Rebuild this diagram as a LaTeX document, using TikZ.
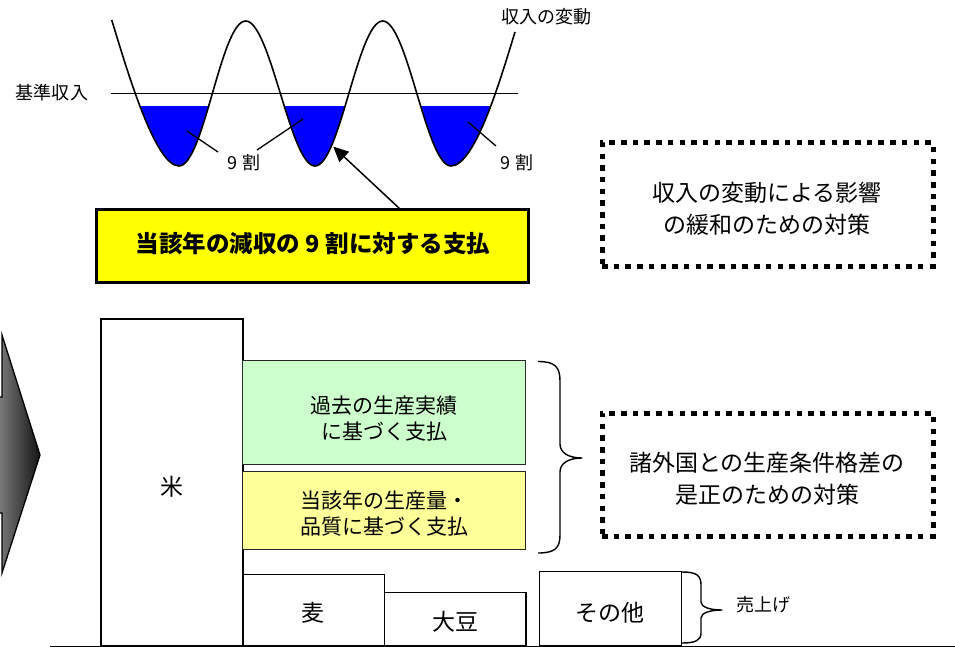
\documentclass[tikz,border=0pt]{standalone}
\usepackage{fontspec}
\setmainfont{Noto Sans CJK JP}
\newfontfamily\heavyjp{Noto Sans CJK JP Black}
\usetikzlibrary{arrows.meta,calc}
\begin{document}
\begin{tikzpicture}[x=1pt,y=-1pt,
  lbl/.style={inner sep=0pt, font=\fontsize{18}{22}\selectfont},
  midtxt/.style={inner sep=0pt, align=center, font=\fontsize{21}{26}\selectfont},
  bigtxt/.style={inner sep=0pt, align=center, font=\fontsize{23}{32}\selectfont},
  box/.style={draw=black, line width=1.5pt, inner sep=0pt},
  greenbox/.style={box, draw=black!85, fill={rgb,255:red,204;green,255;blue,204}},
  paleyellowbox/.style={box, draw=black!85, fill={rgb,255:red,255;green,255;blue,153}},
  paybox/.style={draw=black, line width=3pt, fill={rgb,255:red,255;green,255;blue,0}, inner sep=0pt},
  dotbox/.style={draw=black, line width=5pt, dash pattern=on 5.5pt off 6.2pt, inner sep=0pt},
  wave/.style={line width=1.6pt, line join=round},
  leader/.style={line width=1.3pt},
  bracestyle/.style={line width=1.4pt, line join=round},
]
\useasboundingbox (0,0) rectangle (955,647);

% ---------- income wave ----------
\def\wavepath{(111.7,20) .. controls (125,63) and (154.3,166) .. (179,166)
 .. controls (203.7,166) and (221,21) .. (245.7,21)
 .. controls (270.4,21) and (290.3,166) .. (315,166)
 .. controls (339.7,166) and (358,21) .. (382.7,21)
 .. controls (407.4,21) and (426.3,166) .. (451,166)
 .. controls (475.7,166) and (502,74) .. (515,32)}
\begin{scope}
  \clip (100,106.5) rectangle (530,200);
  \fill[blue] \wavepath -- cycle;
\end{scope}
\draw[line width=1.3pt] (111,93.3) -- (518,93.3);
\draw[wave] \wavepath;

\node[lbl] (base) at (52,93) {基準収入};
\node[lbl] (vary) at (546,17) {収入の変動};

\node[lbl] (n1) at (244,163) {9 割};
\node[lbl] (n2) at (517,163) {9 割};
\coordinate (e1) at (218,152);
\coordinate (b1) at (187,131);
\coordinate (e2) at (257,150);
\coordinate (b2) at (303,119);
\coordinate (e3) at (496,146);
\coordinate (b3) at (468,122);
\draw[leader] (e1) -- (b1);
\draw[leader] (e2) -- (b2);
\draw[leader] (e3) -- (b3);

% ---------- payment box ----------
\node[paybox, minimum width=432pt, minimum height=73pt] (pay) at (312,245.7) {};
\node[inner sep=0pt, font=\fontsize{23.5}{28}\heavyjp] (paytxt) at (313,243.5) {当該年の減収の 9 割に対する支払};
\coordinate (tailA) at (400,209);
\coordinate (tipA) at (333.3,146.7);
\draw[line width=1.5pt, -{Triangle[length=15pt,width=14pt]}] (tailA) -- (tipA);

% ---------- dotted boxes ----------
\node[dotbox, minimum width=331pt, minimum height=123pt] (d1) at (767.5,204.5) {};
\node[bigtxt] (d1t) at (767,209) {収入の変動による影響\\の緩和のための対策};
\node[dotbox, minimum width=331pt, minimum height=123pt] (d2) at (767.5,474.5) {};
\node[bigtxt] (d2t) at (767,479) {諸外国との生産条件格差の\\是正のための対策};

% ---------- left arrow ----------
\shade[left color=black!45, right color=black!92, draw=black, line width=1.3pt, line join=miter]
  (-8,397) -- (2,397) -- (2,335) -- (40,455) -- (2,573) -- (2,513) -- (-8,513) -- cycle;

% ---------- bar boxes ----------
\node[box, fill=white, minimum width=142pt, minimum height=327pt] (rice) at (172,482.5) {};
\node[bigtxt] (ricet) at (172,487) {米};
\node[greenbox, minimum width=283pt, minimum height=103.6pt] (past) at (384.2,412.5) {};
\node[midtxt] (pastt) at (384,419) {過去の生産実績\\に基づく支払};
\node[paleyellowbox, minimum width=283pt, minimum height=77.6pt] (cur) at (384.2,510.5) {};
\node[midtxt] (curt) at (384,513.5) {当該年の生産量・\\品質に基づく支払};
\node[box, minimum width=142pt, minimum height=71.7pt] (wheat) at (313.7,610.2) {};
\node[bigtxt] (wheatt) at (313,613) {麦};
\node[box, minimum width=141.3pt, minimum height=53.3pt] (soy) at (455.3,619.3) {};
\node[bigtxt] (soyt) at (455,622) {大豆};
\node[box, minimum width=142.4pt, minimum height=74.3pt] (other) at (610.5,608.8) {};
\node[bigtxt] (othert) at (610,613) {その他};

\draw[line width=1.6pt] (50,646.5) -- (955,646.5);

% ---------- braces ----------
\draw[bracestyle] (538,361.5) .. controls (555,361.5) and (560,367) .. (560,381)
  -- (560,444) .. controls (560,453) and (569,458) .. (582,458)
  .. controls (569,458) and (560,463) .. (560,472)
  -- (560,535) .. controls (560,548) and (555,553) .. (538,553);
\coordinate (tipB) at (582,458);

\draw[bracestyle] (682,572) .. controls (696,572) and (701,575) .. (701,585)
  -- (701,602) .. controls (701,607) and (710,610) .. (722,610)
  .. controls (710,610) and (701,613) .. (701,618)
  -- (701,633) .. controls (701,640) and (696,643) .. (682,643);
\node[lbl, anchor=west] (sales) at (736,605) {売上げ};

\end{tikzpicture}
\end{document}
